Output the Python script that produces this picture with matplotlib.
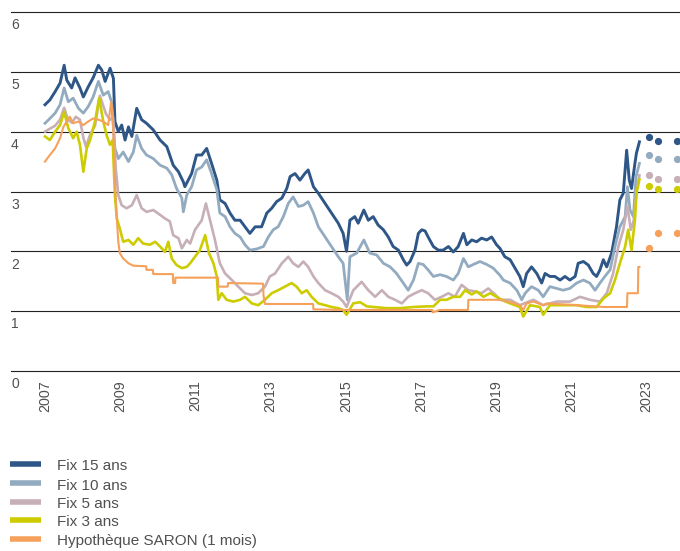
import matplotlib
matplotlib.use("Agg")
import matplotlib.pyplot as plt
from matplotlib.lines import Line2D

plt.rcParams['font.family'] = ['Liberation Sans', 'DejaVu Sans']

# ---------------- data (decimal years, rate in %) ----------------
fix15_t = [2007.00, 2007.13, 2007.27, 2007.40, 2007.51, 2007.58, 2007.71, 2007.80, 2007.93, 2008.02,
           2008.15, 2008.28, 2008.42, 2008.51, 2008.60, 2008.73, 2008.82, 2008.86, 2008.95, 2009.04,
           2009.13, 2009.22, 2009.31, 2009.44, 2009.57, 2009.70, 2009.88, 2010.06, 2010.24, 2010.41,
           2010.55, 2010.68, 2010.72, 2010.81, 2010.90, 2011.03, 2011.17, 2011.30, 2011.43, 2011.57,
           2011.65, 2011.79, 2011.92, 2012.05, 2012.19, 2012.32, 2012.45, 2012.59, 2012.76, 2012.90,
           2013.03, 2013.16, 2013.30, 2013.43, 2013.52, 2013.65, 2013.78, 2013.91, 2014.00, 2014.14,
           2014.27, 2014.45, 2014.62, 2014.80, 2014.93, 2015.02, 2015.11, 2015.24, 2015.33, 2015.48,
           2015.60, 2015.73, 2015.86, 2016.00, 2016.13, 2016.26, 2016.40, 2016.53, 2016.62, 2016.71,
           2016.84, 2016.93, 2017.02, 2017.11, 2017.19, 2017.33, 2017.46, 2017.59, 2017.73, 2017.86,
           2017.99, 2018.13, 2018.22, 2018.35, 2018.48, 2018.61, 2018.75, 2018.88, 2019.01, 2019.10,
           2019.23, 2019.37, 2019.50, 2019.63, 2019.72, 2019.81, 2019.94, 2020.08, 2020.21, 2020.30,
           2020.43, 2020.56, 2020.70, 2020.83, 2020.96, 2021.10, 2021.18, 2021.32, 2021.45, 2021.58,
           2021.67, 2021.76, 2021.85, 2021.94, 2022.07, 2022.20, 2022.29, 2022.38, 2022.47, 2022.54,
           2022.60, 2022.69, 2022.73, 2022.81]
fix15_v = [4.45, 4.53, 4.67, 4.81, 5.11, 4.86, 4.73, 4.90, 4.73, 4.58,
           4.75, 4.90, 5.11, 5.03, 4.84, 5.06, 4.89, 4.17, 4.00, 4.11,
           3.86, 4.08, 3.92, 4.39, 4.20, 4.14, 4.03, 3.86, 3.75, 3.44,
           3.33, 3.16, 3.08, 3.19, 3.30, 3.61, 3.61, 3.72, 3.47, 3.19,
           2.86, 2.80, 2.64, 2.52, 2.52, 2.41, 2.30, 2.41, 2.41, 2.64,
           2.72, 2.83, 2.89, 3.05, 3.25, 3.30, 3.19, 3.30, 3.36, 3.08,
           2.97, 2.80, 2.64, 2.47, 2.30, 2.00, 2.52, 2.58, 2.47, 2.69,
           2.52, 2.58, 2.44, 2.36, 2.24, 2.08, 2.02, 1.86, 1.77, 1.83,
           2.02, 2.30, 2.36, 2.34, 2.24, 2.08, 2.02, 2.02, 2.08, 1.99,
           2.08, 2.30, 2.11, 2.19, 2.16, 2.22, 2.19, 2.24, 2.11, 2.05,
           1.91, 1.86, 1.72, 1.58, 1.41, 1.63, 1.74, 1.63, 1.47, 1.63,
           1.58, 1.58, 1.52, 1.58, 1.52, 1.58, 1.80, 1.83, 1.77, 1.63,
           1.58, 1.69, 1.86, 1.74, 1.97, 2.41, 2.86, 2.97, 3.69, 3.19,
           3.05, 3.47, 3.64, 3.83]

fix10_t = [2007.00, 2007.13, 2007.27, 2007.40, 2007.51, 2007.62, 2007.75, 2007.89, 2008.02, 2008.15,
           2008.28, 2008.42, 2008.55, 2008.68, 2008.77, 2008.86, 2008.95, 2009.08, 2009.22, 2009.35,
           2009.44, 2009.57, 2009.70, 2009.88, 2010.06, 2010.24, 2010.37, 2010.50, 2010.64, 2010.68,
           2010.77, 2010.90, 2011.03, 2011.17, 2011.30, 2011.43, 2011.57, 2011.65, 2011.79, 2011.92,
           2012.05, 2012.19, 2012.32, 2012.45, 2012.63, 2012.81, 2012.94, 2013.07, 2013.20, 2013.34,
           2013.47, 2013.60, 2013.74, 2013.87, 2014.00, 2014.14, 2014.27, 2014.45, 2014.62, 2014.80,
           2014.93, 2015.04, 2015.11, 2015.29, 2015.48, 2015.64, 2015.82, 2016.00, 2016.18, 2016.35,
           2016.53, 2016.66, 2016.80, 2016.93, 2017.06, 2017.19, 2017.33, 2017.51, 2017.68, 2017.86,
           2017.99, 2018.13, 2018.26, 2018.39, 2018.57, 2018.75, 2018.92, 2019.10, 2019.19, 2019.37,
           2019.55, 2019.68, 2019.77, 2019.94, 2020.12, 2020.25, 2020.43, 2020.61, 2020.78, 2020.96,
           2021.14, 2021.32, 2021.49, 2021.63, 2021.76, 2021.89, 2022.03, 2022.16, 2022.29, 2022.43,
           2022.49, 2022.56, 2022.65, 2022.72, 2022.81]
fix10_v = [4.14, 4.22, 4.31, 4.45, 4.73, 4.50, 4.56, 4.39, 4.31, 4.42,
           4.58, 4.84, 4.61, 4.67, 4.50, 3.72, 3.55, 3.66, 3.50, 3.66,
           3.94, 3.72, 3.61, 3.55, 3.44, 3.39, 3.28, 3.05, 2.89, 2.66,
           2.94, 3.08, 3.36, 3.41, 3.53, 3.30, 3.03, 2.64, 2.58, 2.41,
           2.30, 2.24, 2.11, 2.02, 2.04, 2.08, 2.24, 2.36, 2.41, 2.58,
           2.80, 2.91, 2.75, 2.77, 2.83, 2.64, 2.41, 2.24, 2.08, 1.91,
           1.80, 1.19, 1.91, 1.97, 2.19, 1.97, 1.94, 1.80, 1.74, 1.63,
           1.47, 1.35, 1.52, 1.80, 1.78, 1.69, 1.58, 1.61, 1.58, 1.52,
           1.63, 1.88, 1.74, 1.78, 1.83, 1.78, 1.72, 1.60, 1.52, 1.47,
           1.35, 1.19, 1.30, 1.41, 1.35, 1.24, 1.41, 1.38, 1.35, 1.38,
           1.47, 1.52, 1.47, 1.35, 1.47, 1.58, 1.69, 2.08, 2.41, 2.58,
           3.08, 2.69, 2.58, 3.25, 3.47]

fix5_t = [2007.00, 2007.13, 2007.27, 2007.40, 2007.51, 2007.61, 2007.72, 2007.82, 2007.93, 2008.02,
          2008.09, 2008.20, 2008.33, 2008.46, 2008.54, 2008.62, 2008.73, 2008.81, 2008.88, 2008.95,
          2009.04, 2009.17, 2009.31, 2009.44, 2009.57, 2009.70, 2009.88, 2010.06, 2010.19, 2010.32,
          2010.41, 2010.55, 2010.64, 2010.77, 2010.86, 2010.99, 2011.17, 2011.28, 2011.39, 2011.52,
          2011.65, 2011.79, 2011.97, 2012.14, 2012.32, 2012.50, 2012.67, 2012.85, 2012.98, 2013.12,
          2013.30, 2013.47, 2013.60, 2013.74, 2013.87, 2014.00, 2014.14, 2014.27, 2014.45, 2014.62,
          2014.80, 2014.93, 2015.02, 2015.20, 2015.42, 2015.60, 2015.78, 2015.96, 2016.13, 2016.31,
          2016.49, 2016.66, 2016.84, 2017.02, 2017.19, 2017.37, 2017.55, 2017.73, 2017.90, 2018.08,
          2018.26, 2018.44, 2018.61, 2018.79, 2018.97, 2019.10, 2019.37, 2019.63, 2019.99, 2020.25,
          2020.61, 2020.96, 2021.23, 2021.49, 2021.76, 2021.94, 2022.11, 2022.25, 2022.38, 2022.49,
          2022.58, 2022.66, 2022.74, 2022.81]
fix5_v = [4.00, 4.05, 4.10, 4.20, 4.40, 4.20, 4.15, 4.25, 4.20, 3.90,
          3.75, 3.95, 4.10, 4.60, 4.45, 4.30, 4.20, 4.25, 3.40, 2.94,
          2.77, 2.72, 2.77, 2.94, 2.72, 2.66, 2.69, 2.61, 2.55, 2.50,
          2.27, 2.22, 2.05, 2.19, 2.13, 2.36, 2.52, 2.80, 2.52, 2.19,
          1.80, 1.63, 1.52, 1.41, 1.30, 1.27, 1.30, 1.41, 1.58, 1.63,
          1.80, 1.91, 1.80, 1.74, 1.83, 1.74, 1.58, 1.47, 1.35, 1.30,
          1.24, 1.16, 1.07, 1.35, 1.49, 1.35, 1.24, 1.35, 1.24, 1.19,
          1.13, 1.24, 1.30, 1.35, 1.30, 1.19, 1.24, 1.30, 1.24, 1.44,
          1.35, 1.33, 1.30, 1.38, 1.28, 1.19, 1.19, 1.10, 1.19, 1.10,
          1.16, 1.16, 1.24, 1.19, 1.16, 1.30, 1.63, 2.08, 2.36, 2.75,
          2.36, 2.52, 3.03, 3.27]

fix3_t = [2007.00, 2007.13, 2007.27, 2007.40, 2007.51, 2007.62, 2007.75, 2007.84, 2007.93, 2008.02,
          2008.11, 2008.20, 2008.33, 2008.44, 2008.55, 2008.64, 2008.73, 2008.80, 2008.86, 2008.91,
          2008.99, 2009.08, 2009.22, 2009.35, 2009.48, 2009.61, 2009.79, 2009.93, 2010.06, 2010.19,
          2010.28, 2010.37, 2010.50, 2010.64, 2010.77, 2010.86, 2010.99, 2011.12, 2011.26, 2011.36,
          2011.48, 2011.57, 2011.61, 2011.70, 2011.83, 2012.01, 2012.19, 2012.32, 2012.50, 2012.67,
          2012.85, 2013.03, 2013.20, 2013.38, 2013.56, 2013.69, 2013.83, 2013.96, 2014.09, 2014.27,
          2014.45, 2014.62, 2014.80, 2014.93, 2015.02, 2015.20, 2015.38, 2015.56, 2015.73, 2016.09,
          2016.44, 2016.80, 2017.15, 2017.33, 2017.51, 2017.68, 2017.86, 2018.04, 2018.17, 2018.35,
          2018.48, 2018.66, 2018.84, 2019.01, 2019.18, 2019.37, 2019.63, 2019.72, 2019.90, 2020.16,
          2020.25, 2020.43, 2020.79, 2021.14, 2021.41, 2021.67, 2021.85, 2022.03, 2022.16, 2022.29,
          2022.43, 2022.51, 2022.60, 2022.69, 2022.73, 2022.81]
fix3_v = [3.92, 3.86, 4.00, 4.11, 4.33, 4.06, 3.89, 4.00, 3.78, 3.33,
          3.72, 3.86, 4.17, 4.56, 4.17, 3.94, 3.78, 3.86, 2.94, 2.55,
          2.38, 2.16, 2.19, 2.11, 2.22, 2.13, 2.11, 2.16, 2.08, 1.99,
          2.16, 1.88, 1.77, 1.72, 1.74, 1.80, 1.91, 2.02, 2.27, 1.97,
          1.80, 1.58, 1.19, 1.30, 1.19, 1.16, 1.19, 1.24, 1.13, 1.10,
          1.19, 1.30, 1.35, 1.41, 1.47, 1.41, 1.30, 1.35, 1.24, 1.13,
          1.10, 1.07, 1.05, 1.02, 0.94, 1.13, 1.15, 1.08, 1.07, 1.05,
          1.05, 1.07, 1.08, 1.08, 1.19, 1.19, 1.24, 1.24, 1.35, 1.28,
          1.33, 1.24, 1.30, 1.24, 1.18, 1.13, 1.07, 0.91, 1.10, 1.07,
          0.94, 1.10, 1.10, 1.10, 1.07, 1.07, 1.21, 1.30, 1.52, 1.80,
          2.08, 2.36, 2.02, 2.52, 2.97, 3.20]

saron_t = [2007.00, 2007.13, 2007.27, 2007.40, 2007.49, 2007.58, 2007.66, 2007.75, 2007.89, 2008.02,
           2008.15, 2008.28, 2008.42, 2008.55, 2008.68, 2008.76, 2008.80, 2008.84, 2008.87, 2008.91,
           2008.95, 2008.99, 2009.08, 2009.22, 2009.35, 2009.69, 2009.70, 2009.87, 2009.88, 2010.40,
           2010.41, 2010.46, 2010.47, 2011.60, 2011.61, 2011.86, 2011.87, 2012.80, 2012.81, 2012.85,
           2014.13, 2014.14, 2014.93, 2017.30, 2017.31, 2017.50, 2018.25, 2018.26, 2019.10, 2019.37,
           2019.63, 2019.72, 2019.81, 2019.99, 2020.25, 2020.35, 2021.14, 2021.85, 2022.48, 2022.49,
           2022.77, 2022.78, 2022.81]
saron_v = [3.50, 3.61, 3.72, 3.89, 4.08, 4.17, 4.25, 4.14, 4.17, 4.11,
           4.17, 4.22, 4.20, 4.17, 4.11, 4.50, 4.28, 3.61, 3.05, 2.55,
           2.16, 1.97, 1.88, 1.80, 1.76, 1.75, 1.69, 1.69, 1.62, 1.62,
           1.47, 1.47, 1.56, 1.56, 1.41, 1.41, 1.47, 1.46, 1.27, 1.12,
           1.12, 1.03, 1.02, 1.02, 0.98, 1.02, 1.02, 1.19, 1.19, 1.15,
           1.10, 1.02, 1.13, 1.16, 1.10, 1.13, 1.10, 1.07, 1.07, 1.30,
           1.30, 1.74, 1.74]

# forecasts (dots)
fc_t = [2023.06, 2023.30, 2023.81]
fc_fix15 = [3.91, 3.85, 3.85]
fc_fix10 = [3.61, 3.55, 3.55]
fc_fix5 = [3.27, 3.21, 3.21]
fc_fix3 = [3.10, 3.05, 3.05]
fc_saron = [2.05, 2.30, 2.30]

series_names = ["Fix 15 ans", "Fix 10 ans", "Fix 5 ans", "Fix 3 ans", "Hypothèque SARON (1 mois)"]
colors = ["#2e5788", "#93abc0", "#c6afb6", "#cccc00", "#f5a15c"]

y_ticks = [0, 1, 2, 3, 4, 5, 6]
x_ticks = [2007, 2009, 2011, 2013, 2015, 2017, 2019, 2021, 2023]

# ---------------- figure ----------------
W, H = 680, 551
fig = plt.figure(figsize=(W / 100, H / 100), dpi=100)
ax = fig.add_axes([11 / W, (H - 371) / H, (680 - 11) / W, (371 - 12) / H])
ax.set_xlim(2006.096, 2023.889)
ax.set_ylim(0, 6)
for s in ax.spines.values():
    s.set_visible(False)

text_col = "#505050"
for v in y_ticks:
    ax.axhline(v, color="#222222", lw=0.8, zorder=1, clip_on=False)
    ax.annotate(str(v), xy=(0, v), xycoords=("axes fraction", "data"),
                xytext=(0, -4.5), textcoords="offset points",
                ha="left", va="top", fontsize=10, color=text_col)
ax.set_yticks([])

ax.set_xticks(x_ticks)
ax.set_xticklabels([str(t) for t in x_ticks], rotation=90, fontsize=10.3, color=text_col)
ax.tick_params(axis="x", length=0, pad=6.5)

data = [(fix15_t, fix15_v, fc_fix15), (fix10_t, fix10_v, fc_fix10), (fix5_t, fix5_v, fc_fix5),
        (fix3_t, fix3_v, fc_fix3), (saron_t, saron_v, fc_saron)]
lws = [2.1, 2.0, 1.9, 1.9, 1.5]
for i, ((t, v, fc), c) in enumerate(zip(data, colors)):
    ax.plot(t, v, color=c, lw=lws[i], zorder=3 + i, solid_joinstyle="round")
    ax.plot(fc_t, fc, linestyle="none", marker="o", ms=4.2, color=c, zorder=3 + i)

# legend (manual)
rows = [464.3, 483.3, 501.7, 520.3, 539.0]
for name, c, yc in zip(series_names, colors, rows):
    fig.add_artist(Line2D([10 / W, 41 / W], [1 - yc / H, 1 - yc / H], color=c, lw=4,
                          solid_capstyle="butt", transform=fig.transFigure))
    fig.text(57 / W, 1 - (yc + 6.2) / H, name, fontsize=11, color=text_col,
             ha="left", va="baseline")

fig.savefig("out.png", dpi=100)
